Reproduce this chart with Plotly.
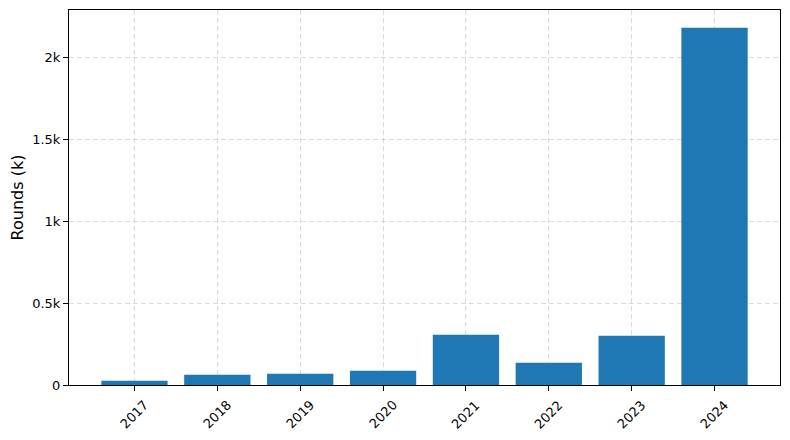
import plotly.graph_objects as go

years = ["2017", "2018", "2019", "2020", "2021", "2022", "2023", "2024"]
rounds = [26, 63, 69, 87, 307, 136, 301, 2179]
ytick_vals = [0, 500, 1000, 1500, 2000]
ytick_text = ["0", "0.5k", "1k", "1.5k", "2k"]

xpos = list(range(len(years)))

fig = go.Figure(go.Bar(x=xpos, y=rounds, width=0.8, marker=dict(color="#1f77b4", line=dict(width=0))))

font = dict(family="DejaVu Sans", size=13, color="black")
fig.update_layout(
    width=790, height=440,
    margin=dict(l=69, r=10, t=10, b=55),
    plot_bgcolor="white", paper_bgcolor="white",
    font=font, showlegend=False,
)
for xv, lab in zip(xpos, years):
    fig.add_annotation(
        x=xv, xref="x", y=0, yref="paper", yshift=-10,
        text=lab, textangle=-45, showarrow=False,
        xanchor="center", yanchor="top", font=font,
    )
fig.update_xaxes(
    range=[-0.79, 7.79], tickvals=xpos, ticktext=years, showticklabels=False,
    showline=True, mirror=True, linecolor="black", linewidth=1,
    ticks="outside", ticklen=5, tickcolor="black",
    showgrid=True, gridcolor="rgba(176,176,176,0.45)", griddash="5px,3px", gridwidth=1,
    zeroline=False, automargin=False,
)
fig.update_yaxes(
    range=[0, 2288], tickvals=ytick_vals, ticktext=ytick_text,
    showline=True, mirror=True, linecolor="black", linewidth=1,
    ticks="outside", ticklen=5, tickcolor="black",
    showgrid=True, gridcolor="rgba(176,176,176,0.45)", griddash="5px,3px", gridwidth=1,
    zeroline=False, automargin=False,
    title=dict(text="Rounds (k)", standoff=4),
)
fig.write_html("out.html", config={"displayModeBar": False},
               post_script="document.body.style.margin='0px';")
